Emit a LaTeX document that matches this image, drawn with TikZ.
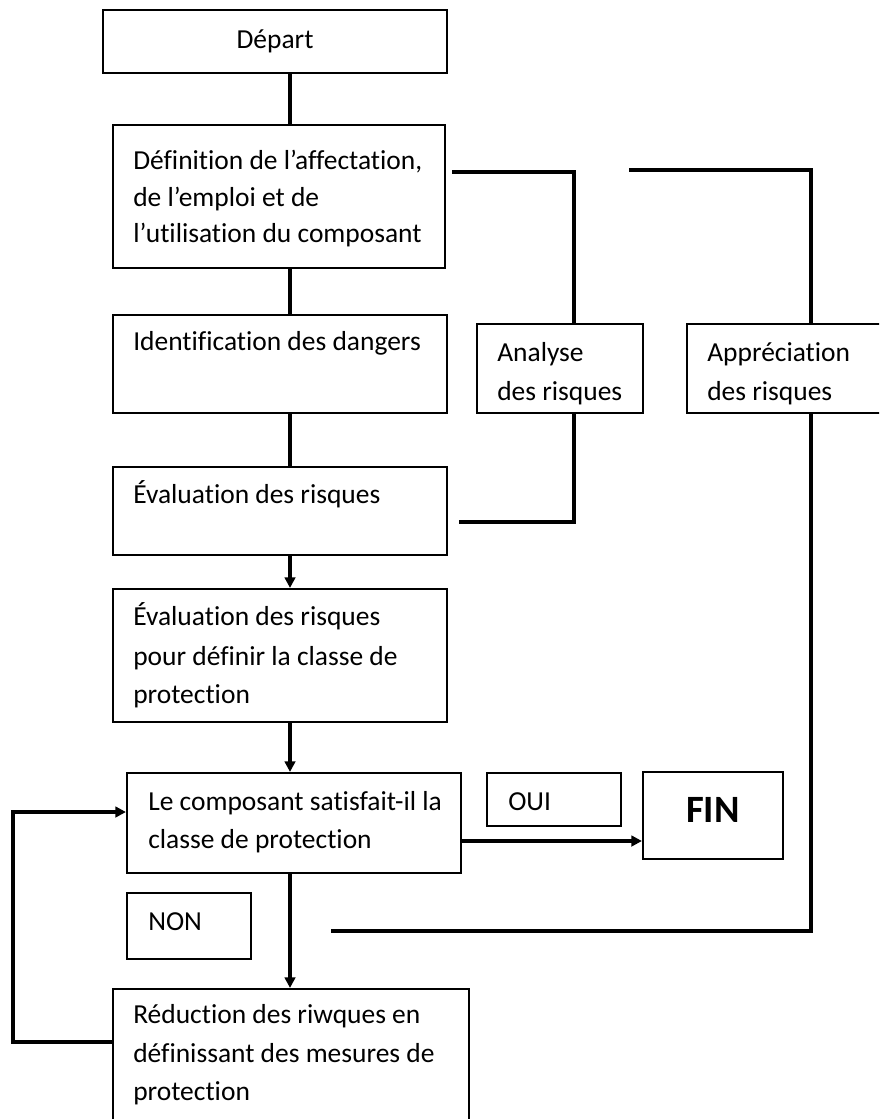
\documentclass[tikz,border=0pt]{standalone}
\usepackage{fontspec}
\setmainfont{Carlito}[Ligatures=NoCommon]
\usetikzlibrary{arrows.meta,fit}
\begin{document}
\begin{tikzpicture}[x=0.75pt,y=-0.75pt,
  box/.style={draw=black, line width=1.6pt, inner sep=0pt},
  conn/.style={draw=black, line width=2.6pt},
  arr/.style={conn, -{Triangle[length=8pt,width=8pt]}},
  txt/.style={inner sep=0pt, anchor=base west, font=\fontsize{20.6}{24}\selectfont},
  big/.style={inner sep=0pt, anchor=base, font=\fontsize{29}{34}\selectfont\bfseries}]
\useasboundingbox (0,0) rectangle (879,1119);
\clip (0,0) rectangle (879,1119);

% boxes
\node[box, fit={(103,10) (447,73)}] (dep) {};
\node[box, fit={(113,125) (445,268)}] (b2) {};
\node[box, fit={(113,315) (447,413)}] (b3) {};
\node[box, fit={(477,324) (643,413)}] (an) {};
\node[box, fit={(687,324) (895,413)}] (ap) {};
\node[box, fit={(113,467) (447,555)}] (b4) {};
\node[box, fit={(113,589) (447,722)}] (b5) {};
\node[box, fit={(127,773) (461,873)}] (b6) {};
\node[box, fit={(487,773) (621,826)}] (oui) {};
\node[box, fit={(643,772) (783,859)}] (fin) {};
\node[box, fit={(127,893) (251,959)}] (non) {};
\node[box, fit={(113,989) (469,1135)}] (b7) {};

% texts
\node[txt, anchor=base] (t1) at (275,49) {Départ};
\node[txt] (t2a) at (133,170) {Définition de l’affectation,};
\node[txt] (t2b) at (133,207) {de l’emploi et de};
\node[txt] (t2c) at (133,243) {l’utilisation du composant};
\node[txt] (t3) at (133,351) {Identification des dangers};
\node[txt] (tan1) at (497,362) {Analyse};
\node[txt] (tan2) at (497,400) {des risques};
\node[txt] (tap1) at (707,362) {Appréciation};
\node[txt] (tap2) at (707,400) {des risques};
\node[txt] (t4) at (133,503) {Évaluation des risques};
\node[txt] (t5a) at (133,625) {Évaluation des risques};
\node[txt] (t5b) at (133,665) {pour définir la classe de};
\node[txt] (t5c) at (133,703) {protection};
\node[txt] (t6a) at (148,810) {Le composant satisfait-il la};
\node[txt] (t6b) at (148,848) {classe de protection};
\node[txt] (toui) at (508,810) {OUI};
\node[big] (tfin) at (713,822) {FIN};
\node[txt] (tnon) at (148,930) {NON};
\node[txt] (t7a) at (133,1023) {Réduction des riwques en};
\node[txt] (t7b) at (133,1062) {définissant des mesures de};
\node[txt] (t7c) at (133,1100) {protection};

% helper coordinates
\coordinate (col) at (290,0);
\coordinate (ax) at (574,0);
\coordinate (a1) at (452,172);
\coordinate (a2) at (459,522);
\coordinate (px) at (811,0);
\coordinate (p1) at (629,170);
\coordinate (p2) at (331,931);
\coordinate (oy) at (0,841);
\coordinate (lb) at (13,1042);
\coordinate (lt) at (13,812);

% main column
\draw[conn] (dep.south -| col) -- (b2.north -| col);
\draw[conn] (b2.south -| col) -- (b3.north -| col);
\draw[conn] (b3.south -| col) -- (b4.north -| col);
\draw[arr] (b4.south -| col) -- (b5.north -| col);
\draw[arr] (b5.south -| col) -- (b6.north -| col);
\draw[arr] (b6.south -| col) -- (b7.north -| col);

% OUI branch
\draw[arr] (b6.east |- oy) -- (fin.west |- oy);

% loop back
\draw[arr] (b7.west |- lb) -- (lb) -- (lt) -- (b6.west |- lt);

% brackets
\draw[conn] (a1) -| (an.north -| ax);
\draw[conn] (an.south -| ax) |- (a2);
\draw[conn] (p1) -| (ap.north -| px);
\draw[conn] (ap.south -| px) |- (p2);
\end{tikzpicture}
\end{document}
